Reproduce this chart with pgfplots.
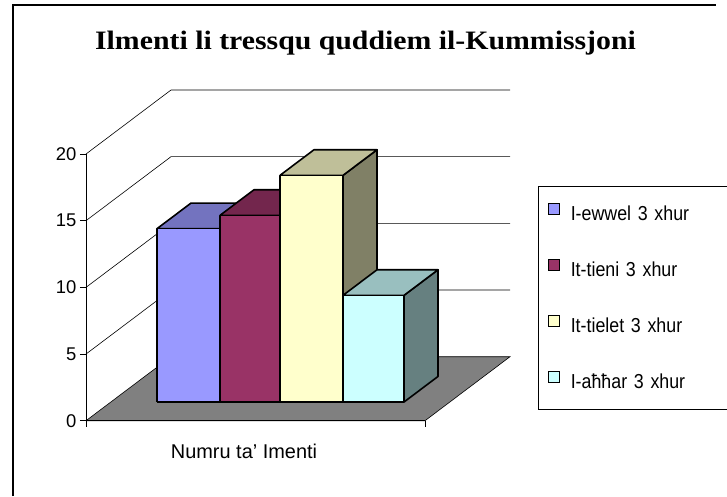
\documentclass[border=0pt]{standalone}
\usepackage{pgfplots}
\pgfplotsset{compat=1.18}
\usepackage{fontspec}
\setmainfont{Liberation Sans}
\newfontfamily\titlefont[FakeStretch=1.12]{Liberation Serif}
\newfontfamily\legfont[FakeStretch=0.88]{Liberation Sans}
\definecolor{c1}{HTML}{9999FF}\definecolor{c1top}{HTML}{7373BF}\definecolor{c1side}{HTML}{4D4D80}
\definecolor{c2}{HTML}{993366}\definecolor{c2top}{HTML}{73264D}\definecolor{c2side}{HTML}{4D1A33}
\definecolor{c3}{HTML}{FFFFCC}\definecolor{c3top}{HTML}{BFBF99}\definecolor{c3side}{HTML}{808066}
\definecolor{c4}{HTML}{CCFFFF}\definecolor{c4top}{HTML}{99BFBF}\definecolor{c4side}{HTML}{668080}
\definecolor{floorgrey}{HTML}{808080}
% oblique projection: d = depth fraction (0 front, 1 back wall)
\pgfkeys{/pgfplots/table/proj/.style={/pgfplots/table/row sep=\\,
  /pgfplots/table/x expr=\thisrow{x}+85*\thisrow{d},
  /pgfplots/table/y expr=\thisrow{y}+4.8*\thisrow{d}}}
% 3-D bar: left, right (front-plane x), value, colour
\newcommand{\tdbar}[4]{%
 \addplot[fill=#4side, draw=black, line width=1.6bp, line join=round, mark=none, forget plot] table[proj]
   {x y d\\ #2 0 0.292\\ #2 0 0.692\\ #2 #3 0.692\\ #2 #3 0.292\\ #2 0 0.292\\};
 \addplot[fill=#4top, draw=black, line width=1.6bp, line join=round, mark=none, forget plot] table[proj]
   {x y d\\ #1 #3 0.292\\ #2 #3 0.292\\ #2 #3 0.692\\ #1 #3 0.692\\ #1 #3 0.292\\};
 \addplot[fill=#4, draw=black, line width=1.6bp, line join=round, mark=none, forget plot] table[proj]
   {x y d\\ #1 0 0.292\\ #2 0 0.292\\ #2 #3 0.292\\ #1 #3 0.292\\ #1 0 0.292\\};
}
\begin{document}
\begin{tikzpicture}
\begin{axis}[
  scale only axis, width=339bp, height=266.7bp,
  xmin=86, xmax=425, ymin=0, ymax=20,
  axis x line*=bottom, axis y line*=left,
  axis line style={black, line width=0.8bp},
  xtick={86,425}, xticklabels={,,},
  ytick={0,5,10,15,20},
  tick align=outside, major tick length=6bp,
  tick style={black, line width=0.8bp},
  /pgf/number format/assume math mode=true,
  yticklabel style={font=\fontsize{18.5}{20}\selectfont},
  clip=false, axis on top,
  legend cell align=left,
  legend style={at={(axis cs:538,17.6)}, anchor=north west, draw=black, line width=0.8bp,
    font=\legfont\fontsize{20.3}{22}\selectfont, inner xsep=10bp, inner ysep=17bp, row sep=35bp,
    /tikz/every even column/.append style={text width=145bp}},
  legend image code/.code={\draw[#1, draw=black, line width=0.8bp] (0bp,-0.5bp) rectangle (11bp,10.5bp);
    \path[draw=none, fill=none] (0bp,0bp) -- (20bp,0bp);},
]
% floor
\addplot[fill=floorgrey, draw=black, line width=0.6bp, mark=none, forget plot] table[proj]
  {x y d\\ 86 0 0\\ 425 0 0\\ 425 0 1\\ 86 0 1\\ 86 0 0\\};
% gridlines on side and back walls
\addplot[black, line width=0.6bp, mark=none, forget plot] table[proj] {x y d\\ 86 5 0\\ 86 5 1\\ 425 5 1\\};
\addplot[black, line width=0.6bp, mark=none, forget plot] table[proj] {x y d\\ 86 10 0\\ 86 10 1\\ 425 10 1\\};
\addplot[black, line width=0.6bp, mark=none, forget plot] table[proj] {x y d\\ 86 15 0\\ 86 15 1\\ 425 15 1\\};
\addplot[black, line width=0.6bp, mark=none, forget plot] table[proj] {x y d\\ 86 20 0\\ 86 20 1\\ 425 20 1\\};
% bars: values 13, 14, 17, 8
\tdbar{132.2}{195.2}{13}{c1}
\tdbar{195.2}{255.2}{14}{c2}
\tdbar{255.2}{318.2}{17}{c3}
\tdbar{318.2}{379.2}{8}{c4}
\addlegendimage{fill=c1}\addlegendentry{I-ewwel 3 xhur}
\addlegendimage{fill=c2}\addlegendentry{It-tieni 3 xhur}
\addlegendimage{fill=c3}\addlegendentry{It-tielet 3 xhur}
\addlegendimage{fill=c4}\addlegendentry{I-aħħar 3 xhur}
\node[font=\titlefont\bfseries\fontsize{26.7}{30}\selectfont, anchor=base] at (axis cs:365.5,27.85) {Ilmenti li tressqu quddiem il-Kummissjoni};
\node[font=\fontsize{20}{22}\selectfont, anchor=base] at (axis cs:244,-2.87) {Numru ta’ Imenti};
\draw[black, line width=1.5bp] (axis cs:13,-5.647) -- (axis cs:13,31.17) -- (axis cs:716,31.17);
\coordinate (bbA) at (axis cs:0,-5.647);
\coordinate (bbB) at (axis cs:727,31.55);
\end{axis}
\pgfresetboundingbox
\path (bbA) rectangle (bbB);
\end{tikzpicture}
\end{document}
